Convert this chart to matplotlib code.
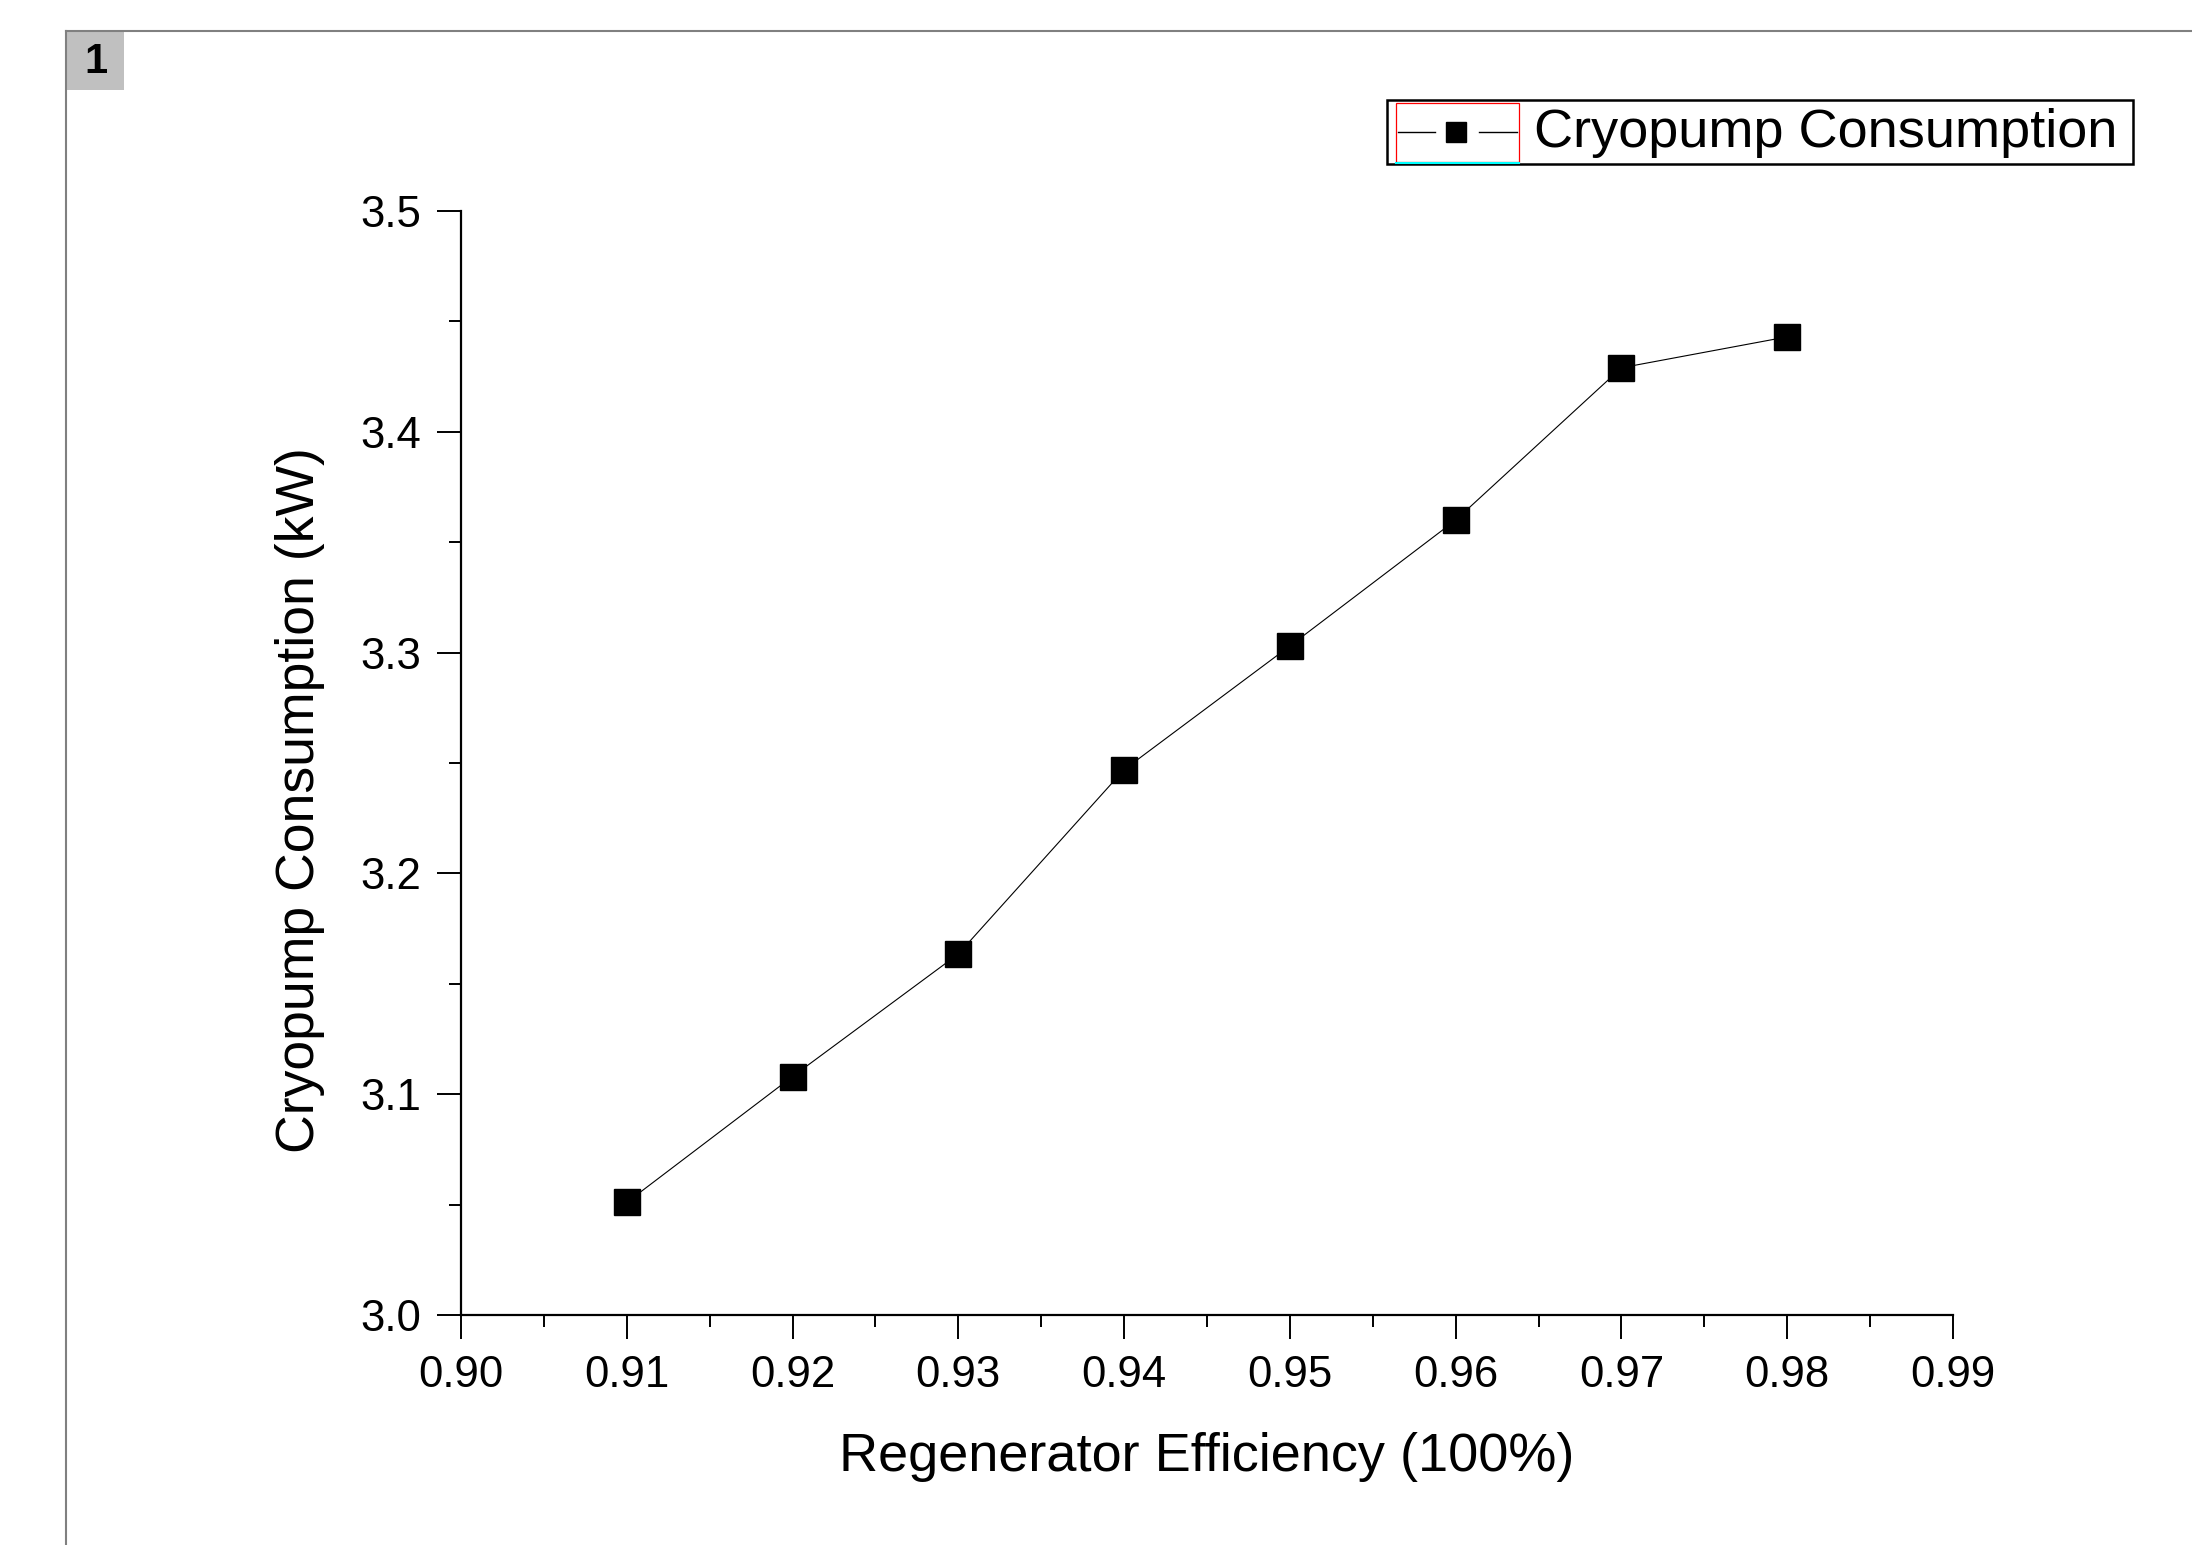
import numpy as np
import matplotlib
matplotlib.use("Agg")
import matplotlib.pyplot as plt
from matplotlib.lines import Line2D
from matplotlib.patches import Rectangle
from matplotlib.ticker import MultipleLocator

# ---- data ----
efficiency = [0.91, 0.92, 0.93, 0.94, 0.95, 0.96, 0.97, 0.98]
consumption = [3.051, 3.108, 3.1635, 3.247, 3.303, 3.360, 3.429, 3.443]
xticks = [0.90, 0.91, 0.92, 0.93, 0.94, 0.95, 0.96, 0.97, 0.98, 0.99]
yticks = [3.0, 3.1, 3.2, 3.3, 3.4, 3.5]
series_name = "Cryopump Consumption"

W, H = 2192, 1545
plt.rcParams["font.family"] = ["Liberation Sans", "DejaVu Sans"]
fig = plt.figure(figsize=(W / 100, H / 100), dpi=100)

def fx(px): return px / W
def fy(py): return 1 - py / H

# axes box in pixels: x 461..1953, y 211..1315
ax = fig.add_axes([fx(461), fy(1315), fx(1953) - fx(461), fy(211) - fy(1315)])
ax.plot(efficiency, consumption, color="black", lw=0.8, marker="s", ms=18.5,
        mfc="black", mec="black", zorder=3)

ax.set_xlim(0.90, 0.99)
ax.set_ylim(3.0, 3.5)
ax.set_xticks(xticks)
ax.set_xticklabels([f"{v:.2f}" for v in xticks])
ax.set_yticks(yticks)
ax.set_yticklabels([f"{v:.1f}" for v in yticks])
ax.xaxis.set_minor_locator(MultipleLocator(0.005))
ax.yaxis.set_minor_locator(MultipleLocator(0.05))
ax.tick_params(which="major", direction="out", length=17, width=1.4, labelsize=31.5, pad=12)
ax.tick_params(which="minor", direction="out", length=8.5, width=1.4)
for s in ("top", "right"):
    ax.spines[s].set_visible(False)
for s in ("left", "bottom"):
    ax.spines[s].set_linewidth(1.6)

ax.set_xlabel("Regenerator Efficiency (100%)", fontsize=39)
ax.xaxis.set_label_coords(0.5, -0.129)
ax.xaxis.label.set_va("center")
ax.set_ylabel("Cryopump Consumption (kW)", fontsize=38.5)
ax.yaxis.set_label_coords(-0.108, 0.466)
ax.yaxis.label.set_va("center")

# ---- Origin-style page frame and layer badge ----
fig.add_artist(Line2D([fx(66), fx(66)], [fy(31), 0], color="#808080", lw=1.5))
fig.add_artist(Line2D([fx(66), 1], [fy(31), fy(31)], color="#808080", lw=1.5))
fig.add_artist(Rectangle((fx(67), fy(90)), fx(124) - fx(67), fy(32) - fy(90),
                         transform=fig.transFigure, color="#c0c0c0", lw=0))
fig.text(fx(96), fy(62), "1", fontsize=30, fontweight="bold", ha="center", va="center")

# ---- legend drawn like the Origin one ----
fig.add_artist(Rectangle((fx(1387), fy(164)), fx(2133) - fx(1387), fy(100) - fy(164),
                         transform=fig.transFigure, fill=False, ec="black", lw=1.8))
fig.add_artist(Rectangle((fx(1396), fy(162)), fx(1519) - fx(1396), fy(103) - fy(162),
                         transform=fig.transFigure, fill=False, ec="red", lw=0.9))
fig.add_artist(Line2D([fx(1396), fx(1519)], [fy(163), fy(163)], color="cyan", lw=1.5))
fig.add_artist(Line2D([fx(1398), fx(1435)], [fy(132), fy(132)], color="black", lw=1.0))
fig.add_artist(Line2D([fx(1479), fx(1517)], [fy(132), fy(132)], color="black", lw=1.0))
fig.add_artist(Line2D([fx(1456)], [fy(132)], marker="s", ms=15, color="black", ls=""))
fig.text(fx(1534), fy(133), series_name, fontsize=39, ha="left", va="center")

fig.savefig("out.png", dpi=100)
